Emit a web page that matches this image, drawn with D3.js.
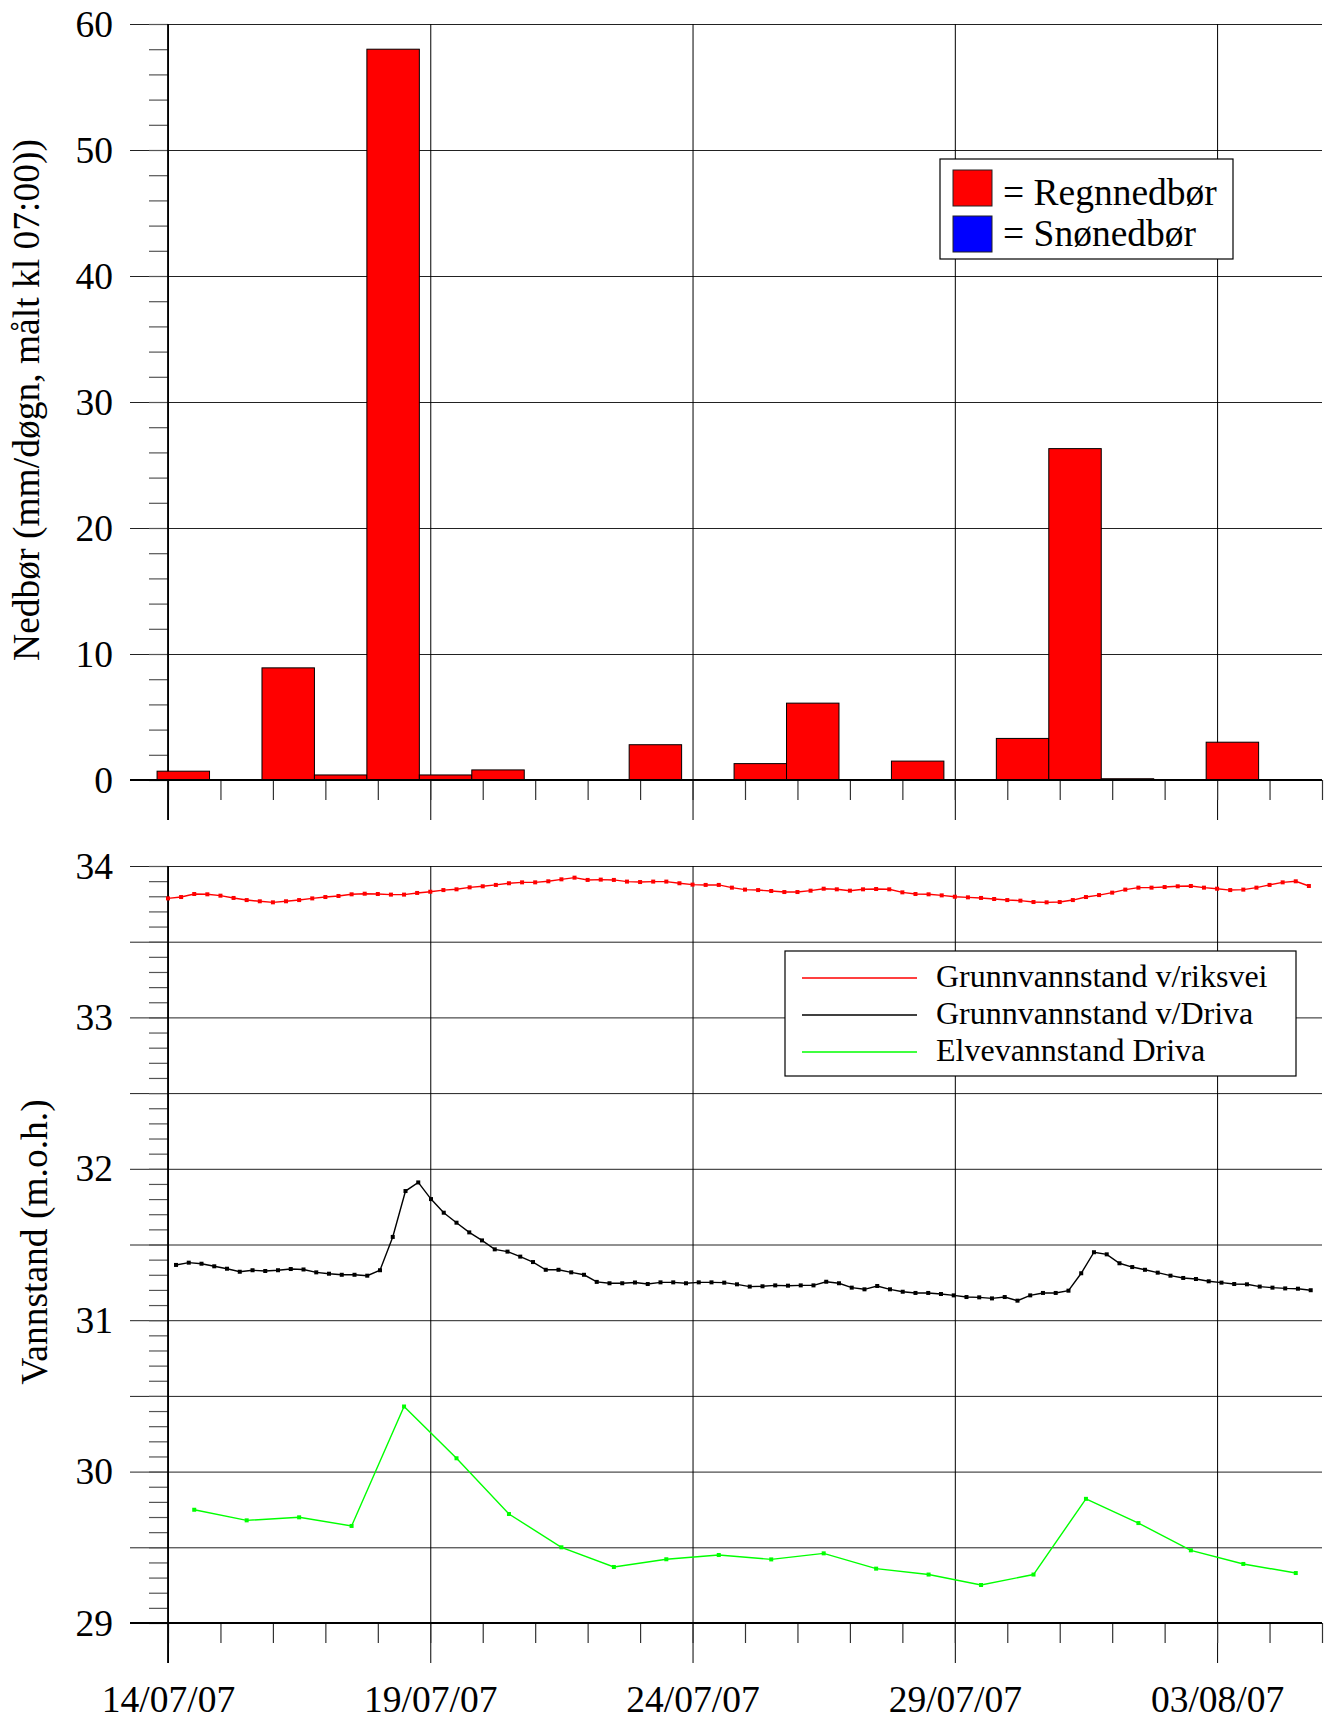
<!DOCTYPE html>
<html>
<head>
<meta charset="utf-8">
<script src="https://cdn.jsdelivr.net/npm/d3@7/dist/d3.min.js"></script>
<style>
body { margin: 0; background: #fff; }
text { font-family: "Liberation Serif", "Times New Roman", serif; fill: #000; }
</style>
</head>
<body>
<div id="chart"></div>
<script>
const width = 1325,
    height = 1720

// daily precipitation (mm), measured 07:00
const rainDays = ["14/07/07", "15/07/07", "16/07/07", "17/07/07", "18/07/07", "19/07/07", "20/07/07",
    "21/07/07", "22/07/07", "23/07/07", "24/07/07", "25/07/07", "26/07/07", "27/07/07", "28/07/07",
    "29/07/07", "30/07/07", "31/07/07", "01/08/07", "02/08/07", "03/08/07", "04/08/07"]
const rain = [0.7, 0, 8.9, 0.4, 58.0, 0.4, 0.8, 0, 0, 2.8, 0, 1.3, 6.1, 0, 1.5, 0, 3.3, 26.3, 0.1, 0, 3.0, 0]

const dateTicks = ["14/07/07", "19/07/07", "24/07/07", "29/07/07", "03/08/07"]

// Grunnvannstand v/riksvei, every 6 h from 14/07 00:00
const riksvei = [33.786, 33.795, 33.815, 33.813, 33.804, 33.789, 33.775, 33.767, 33.760, 33.767,
    33.775, 33.786, 33.795, 33.802, 33.813, 33.817, 33.815, 33.811, 33.811, 33.822,
    33.830, 33.841, 33.846, 33.859, 33.866, 33.875, 33.886, 33.892, 33.892, 33.899,
    33.912, 33.923, 33.908, 33.910, 33.908, 33.897, 33.894, 33.897, 33.897, 33.886,
    33.877, 33.875, 33.875, 33.857, 33.844, 33.841, 33.835, 33.828, 33.828, 33.837,
    33.850, 33.846, 33.837, 33.846, 33.848, 33.846, 33.826, 33.815, 33.813, 33.806,
    33.797, 33.793, 33.789, 33.782, 33.775, 33.771, 33.762, 33.760, 33.762, 33.775,
    33.795, 33.808, 33.824, 33.844, 33.857, 33.857, 33.861, 33.866, 33.868, 33.857,
    33.850, 33.841, 33.844, 33.857, 33.875, 33.892, 33.899, 33.868]

// Grunnvannstand v/Driva, logger every 350 min from 14/07 03:40
const drivaGw = [31.365, 31.380, 31.373, 31.356, 31.340, 31.320, 31.330, 31.325, 31.330, 31.338,
    31.335, 31.316, 31.307, 31.300, 31.300, 31.294, 31.330, 31.550, 31.853, 31.910,
    31.800, 31.710, 31.644, 31.580, 31.527, 31.468, 31.453, 31.420, 31.384, 31.333,
    31.333, 31.316, 31.300, 31.253, 31.244, 31.244, 31.249, 31.239, 31.250, 31.250,
    31.244, 31.250, 31.250, 31.248, 31.237, 31.222, 31.224, 31.230, 31.228, 31.230,
    31.230, 31.254, 31.244, 31.215, 31.204, 31.226, 31.204, 31.188, 31.180, 31.180,
    31.173, 31.164, 31.153, 31.151, 31.144, 31.153, 31.129, 31.164, 31.180, 31.180,
    31.195, 31.310, 31.449, 31.435, 31.376, 31.351, 31.333, 31.314, 31.294, 31.279,
    31.272, 31.257, 31.248, 31.239, 31.237, 31.222, 31.215, 31.210, 31.208, 31.198]

// Elvevannstand Driva, daily at 12:00
const river = [29.748, 29.678, 29.698, 29.641, 30.430, 30.088, 29.720, 29.500, 29.370, 29.421,
    29.449, 29.420, 29.460, 29.359, 29.320, 29.251, 29.320, 29.820, 29.660, 29.480,
    29.390, 29.330]

const parse = d3.utcParse("%d/%m/%y")
const fmt = d3.utcFormat("%d/%m/%y")
const t0 = parse("14/07/07")

const riksveiData = riksvei.map((v, i) => ({ t: d3.utcHour.offset(t0, 6 * i), v }))
const drivaData = drivaGw.map((v, i) => ({ t: d3.utcMinute.offset(t0, 220 + 350 * i), v }))
const riverData = river.map((v, i) => ({ t: d3.utcHour.offset(t0, 12 + 24 * i), v }))

var svg = d3.select("#chart")
    .append("svg")
    .attr("width", width)
    .attr("height", height)
    .attr("viewBox", `0 0 ${width} ${height}`)

const left = 168, right = 1322
const fs = 37.5
const serif = '"Liberation Serif", "Times New Roman", serif'

var x = d3.scaleUtc()
    .domain([t0, parse("05/08/07")])
    .range([left, right])

var yTop = d3.scaleLinear().domain([0, 60]).range([780, 24])
var yBot = d3.scaleLinear().domain([29, 34]).range([1623, 866])

function tidy(g, color, w) {
    g.select(".domain").remove()
    g.attr("font-family", null).attr("font-size", null)
    g.selectAll(".tick line").attr("stroke", color).attr("stroke-width", w)
    g.selectAll(".tick text")
        .style("font-family", serif)
        .attr("font-size", fs)
        .attr("fill", "#000")
}

function panel(y, majors, minors, top, bottom, labelled) {
    // horizontal grid
    svg.append("g")
        .attr("transform", `translate(${left},0)`)
        .call(d3.axisLeft(y).tickValues(majors).tickSize(left - 130).tickFormat(""))
        .call(g => tidy(g, "#222", 1))
    svg.append("g")
        .attr("transform", `translate(${left},0)`)
        .call(d3.axisRight(y).tickValues(majors).tickSize(right - left).tickFormat(""))
        .call(g => tidy(g, "#222", 1))

    // labels on whole units
    svg.append("g")
        .attr("transform", `translate(${left},0)`)
        .call(d3.axisLeft(y).tickValues(labelled).tickSize(0).tickPadding(55).tickFormat(d3.format("d")))
        .call(g => tidy(g, "none", 0))

    // minor y ticks
    svg.append("g")
        .attr("transform", `translate(${left},0)`)
        .call(d3.axisLeft(y).tickValues(minors).tickSize(19).tickFormat(""))
        .call(g => tidy(g, "#555", 1.2))

    // date lines and day ticks
    svg.append("g")
        .attr("transform", `translate(0,${bottom + 40})`)
        .call(d3.axisBottom(x).tickValues(dateTicks.map(parse)).tickSize(-(bottom + 40 - top)).tickFormat(""))
        .call(g => tidy(g, "#000", 1))
    svg.append("g")
        .attr("transform", `translate(0,${bottom})`)
        .call(d3.axisBottom(x).ticks(d3.utcDay.every(1)).tickSize(20).tickFormat(""))
        .call(g => tidy(g, "#333", 1.2))

    svg.append("line")
        .attr("x1", left).attr("x2", left)
        .attr("y1", top).attr("y2", bottom + 40)
        .attr("stroke", "#000").attr("stroke-width", 1.8)
}

// ---------- top panel: precipitation ----------
panel(yTop, d3.range(0, 61, 10), d3.range(0, 61, 2), 24, 780, d3.range(0, 61, 10))

svg.append("g")
    .selectAll("rect")
    .data(rain.map((v, i) => ({ day: parse(rainDays[i]), v })))
    .enter()
    .append("rect")
    .attr("x", d => x(d3.utcHour.offset(d.day, -5)))
    .attr("width", d => x(d3.utcHour.offset(d.day, 19)) - x(d3.utcHour.offset(d.day, -5)))
    .attr("y", d => yTop(d.v))
    .attr("height", d => yTop(0) - yTop(d.v))
    .attr("fill", "#ff0000")
    .attr("stroke", "#000")
    .attr("stroke-width", 1)

svg.append("line")
    .attr("x1", 130).attr("x2", right)
    .attr("y1", yTop(0)).attr("y2", yTop(0))
    .attr("stroke", "#000").attr("stroke-width", 2)

svg.append("text")
    .attr("transform", `translate(39,400) rotate(-90)`)
    .attr("text-anchor", "middle")
    .attr("font-size", fs)
    .text("Nedbør (mm/døgn, målt kl 07:00))")

var legTop = svg.append("g")
legTop.append("rect")
    .attr("x", 940).attr("y", 159).attr("width", 293).attr("height", 100)
    .attr("fill", "#fff").attr("stroke", "#000").attr("stroke-width", 1.2)
legTop.selectAll(".sw")
    .data([{ c: "#ff0000", y: 170, dy: 35, t: "= Regnnedbør" }, { c: "#0000ff", y: 216, dy: 30, t: "= Snønedbør" }])
    .enter()
    .append("g")
    .each(function (d) {
        var g = d3.select(this)
        g.append("rect")
            .attr("x", 953).attr("y", d.y).attr("width", 39).attr("height", 36)
            .attr("fill", d.c).attr("stroke", "#222").attr("stroke-width", 1)
        g.append("text")
            .attr("x", 1003).attr("y", d.y + d.dy)
            .attr("font-size", fs)
            .text(d.t)
    })

// ---------- bottom panel: water levels ----------
const botMajors = d3.range(58, 69).map(d => d / 2)
const botMinors = d3.range(290, 341).map(d => d / 10)
panel(yBot, botMajors, botMinors, 866, 1623, [29, 30, 31, 32, 33, 34])

svg.append("g")
    .attr("transform", `translate(0,1664)`)
    .call(d3.axisBottom(x).tickValues(dateTicks.map(parse)).tickSize(0).tickPadding(21).tickFormat(fmt))
    .call(g => tidy(g, "none", 0))

svg.append("line")
    .attr("x1", 130).attr("x2", right)
    .attr("y1", yBot(29)).attr("y2", yBot(29))
    .attr("stroke", "#000").attr("stroke-width", 2)

var line = d3.line().x(d => x(d.t)).y(d => yBot(d.v))

const series = [
    { name: "Grunnvannstand v/riksvei", color: "#ff0000", data: riksveiData },
    { name: "Grunnvannstand v/Driva", color: "#000000", data: drivaData },
    { name: "Elvevannstand Driva", color: "#00ff00", data: riverData }
]

series.forEach(s => {
    svg.append("path")
        .datum(s.data)
        .attr("fill", "none")
        .attr("stroke", s.color)
        .attr("stroke-width", 1.4)
        .attr("d", line)
    svg.append("g")
        .selectAll("rect")
        .data(s.data)
        .enter()
        .append("rect")
        .attr("x", d => x(d.t) - 2)
        .attr("y", d => yBot(d.v) - 2)
        .attr("width", 4)
        .attr("height", 4)
        .attr("fill", s.color)
})

svg.append("text")
    .attr("transform", `translate(47,1242) rotate(-90)`)
    .attr("text-anchor", "middle")
    .attr("font-size", fs)
    .text("Vannstand (m.o.h.)")

var legBot = svg.append("g")
legBot.append("rect")
    .attr("x", 785).attr("y", 951).attr("width", 511).attr("height", 125)
    .attr("fill", "#fff").attr("stroke", "#000").attr("stroke-width", 1.2)
series.forEach((s, i) => {
    var ly = 978 + i * 37
    legBot.append("line")
        .attr("x1", 802).attr("x2", 917)
        .attr("y1", ly).attr("y2", ly)
        .attr("stroke", s.color).attr("stroke-width", 1.5)
    legBot.append("text")
        .attr("x", 936).attr("y", ly + 9)
        .attr("font-size", 32)
        .text(s.name)
})
</script>
</body>
</html>
